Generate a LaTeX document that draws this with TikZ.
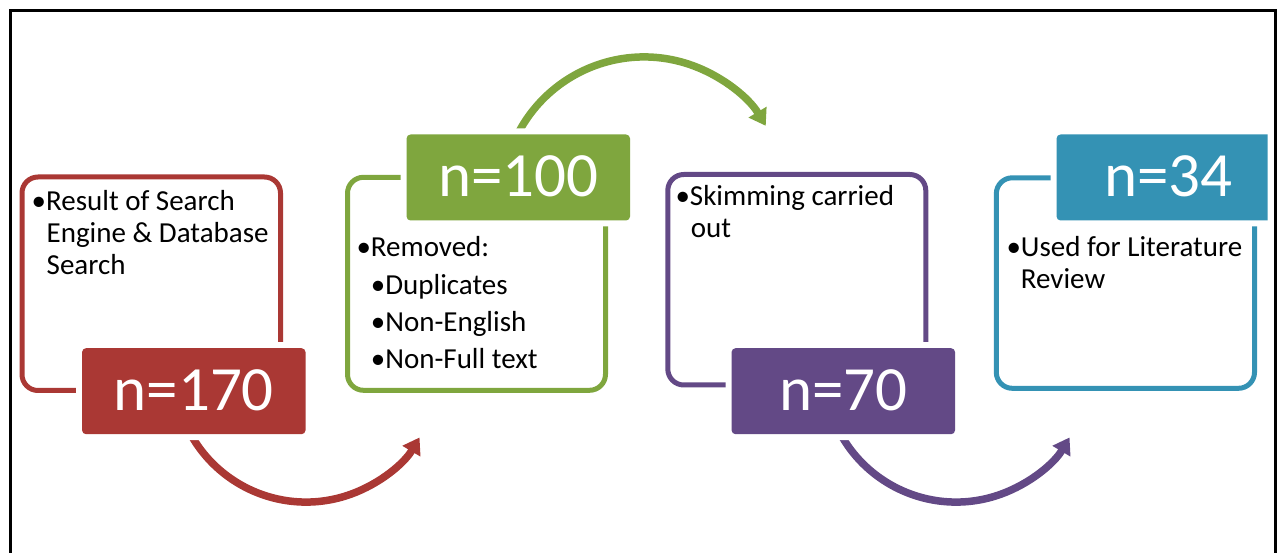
\documentclass[tikz,border=0pt]{standalone}
\usepackage{fontspec}
\setmainfont{Carlito}
\usetikzlibrary{arrows.meta}
\definecolor{cred}{RGB}{170,56,52}
\definecolor{cgreen}{RGB}{127,166,62}
\definecolor{cpurple}{RGB}{99,73,134}
\definecolor{cblue}{RGB}{52,146,180}
\begin{document}
\begin{tikzpicture}[x=1pt,y=1pt,
  outl/.style={draw=#1, line width=5pt, rounded corners=16pt, inner sep=0pt, outer sep=0pt},
  numbox/.style={fill=#1, text=white, rounded corners=4pt, minimum width=223.5pt, inner sep=0pt, outer sep=0pt,
    text height=62pt, text depth=24pt, font=\fontsize{63}{70}\selectfont,
    preaction={draw=white, line width=12pt}},
  txt/.style={anchor=base west, inner sep=0pt, font=\fontsize{29}{32}\selectfont},
  flow/.style={draw=#1, line width=7.5pt, -{Triangle[width=20pt,length=16pt]}},
]
\useasboundingbox (0,0) rectangle (1277,552);
% frame
\draw[line width=3pt] (10,-5) -- (10,541.5) -- (1275,541.5) -- (1275,-5);

% outline boxes
\node[outl=cred,    minimum width=258.5pt, minimum height=213.5pt] (b1) at (151.25,268.25) {};
\node[outl=cgreen,  minimum width=258pt,   minimum height=213pt]   (b2) at (476.5,268.2) {};
\node[outl=cpurple, minimum width=258pt,   minimum height=210.5pt] (b3) at (796.8,272.25) {};
\node[outl=cblue,   minimum width=258.2pt, minimum height=210.5pt] (b4) at (1125.4,268.95) {};

% texts
\node[txt] (t1a) at (31.5,341.3) {•Result of Search};
\node[txt] (t1b) at (46.5,309.3) {Engine \& Database};
\node[txt] (t1c) at (46.5,277.3) {Search};

\node[txt] (t2a) at (356.3,295.3) {•Removed:};
\node[txt] (t2b) at (370.7,257.7) {•Duplicates};
\node[txt] (t2c) at (370.7,220.3) {•Non-English};
\node[txt] (t2d) at (370.7,183.7) {•Non-Full text};

\node[txt] (t3a) at (675.3,346) {•Skimming carried};
\node[txt] (t3b) at (690.7,314) {out};

\node[txt] (t4a) at (1006.3,295.3) {•Used for Literature};
\node[txt] (t4b) at (1020.7,263.7) {Review};

% coordinates of number boxes
\coordinate (c1) at (193.8,160.8);
\coordinate (c2) at (518.3,374.5);
\coordinate (c3) at (843.3,160.8);
\coordinate (c4) at (1168.3,374.5);

% arrows (drawn beneath the number boxes)
\draw[flow=cred]    ([shift={(-11.8,-24)}]c1) arc[start angle=200, end angle=329.3, radius=132];
\draw[flow=cgreen]  ([shift={(-7.7,27.1)}]c2) arc[start angle=160, end angle=31, radius=142];
\draw[flow=cpurple] ([shift={(-11.3,-24)}]c3) arc[start angle=200, end angle=329.3, radius=132];

% number boxes
\node[numbox=cred]    (n1) at (c1) {n=170};
\node[numbox=cgreen]  (n2) at (c2) {n=100};
\node[numbox=cpurple] (n3) at (c3) {n=70};
\begin{scope}
  \clip (0,0) rectangle (1267.5,552);
  \node[numbox=cblue] (n4) at (c4) {n=34};
\end{scope}
\end{tikzpicture}
\end{document}
